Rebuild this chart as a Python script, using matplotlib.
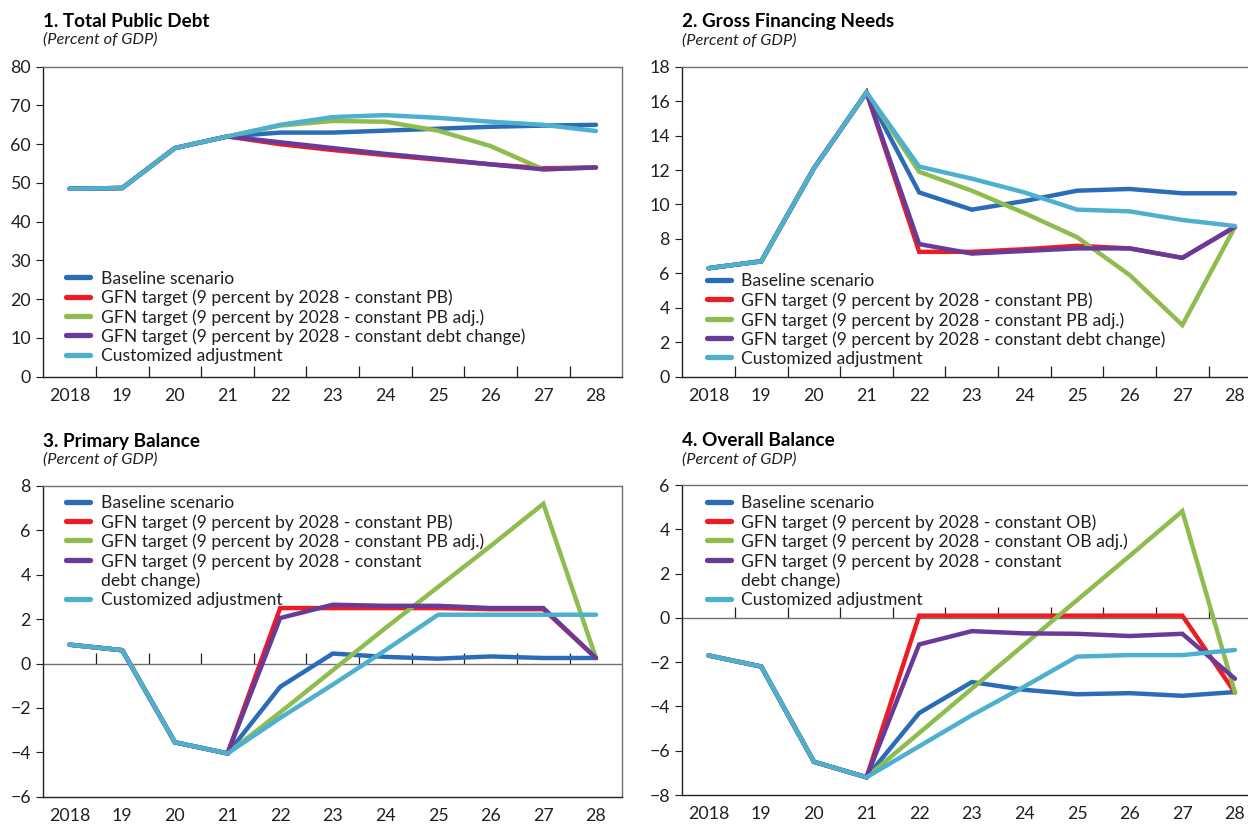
import matplotlib
matplotlib.use('Agg')
import matplotlib.pyplot as plt

plt.rcParams['font.family'] = ['Lato', 'DejaVu Sans']

# ── Data ───────────────────────────────────────────────────────────────────────
YEAR_LABELS = ['2018', '19', '20', '21', '22', '23', '24', '25', '26', '27', '28']

# 1. Total public debt
debt_baseline = [48.5, 48.7, 59.0, 62.0, 63.0, 63.0, 63.5, 64.0, 64.5, 64.8, 65.0]
debt_pb       = [48.5, 48.7, 59.0, 62.0, 60.0, 58.5, 57.2, 56.0, 54.8, 53.8, 54.0]
debt_pb_adj   = [48.5, 48.7, 59.0, 62.0, 64.8, 66.0, 65.8, 63.5, 59.5, 53.5, 54.0]
debt_dchg     = [48.5, 48.7, 59.0, 62.0, 60.5, 59.0, 57.5, 56.2, 54.8, 53.5, 54.0]
debt_custom   = [48.5, 48.7, 59.0, 62.0, 65.0, 67.0, 67.5, 66.8, 65.8, 65.0, 63.4]

# 2. Gross financing needs
gfn_baseline = [6.3, 6.7, 12.1, 16.5, 10.7, 9.7, 10.2, 10.8, 10.9, 10.65, 10.65]
gfn_pb       = [6.3, 6.7, 12.1, 16.5, 7.25, 7.25, 7.4, 7.6, 7.45, 6.9, 8.7]
gfn_pb_adj   = [6.3, 6.7, 12.1, 16.5, 11.9, 10.8, 9.5, 8.1, 5.9, 3.0, 8.7]
gfn_dchg     = [6.3, 6.7, 12.1, 16.5, 7.7, 7.15, 7.3, 7.45, 7.45, 6.9, 8.7]
gfn_custom   = [6.3, 6.7, 12.1, 16.5, 12.2, 11.5, 10.7, 9.7, 9.6, 9.1, 8.75]

# 3. Primary balance
pb_baseline = [0.85, 0.6, -3.55, -4.05, -1.05, 0.45, 0.3, 0.22, 0.32, 0.25, 0.25]
pb_pb       = [0.85, 0.6, -3.55, -4.05, 2.5, 2.5, 2.5, 2.5, 2.45, 2.45, 0.25]
pb_pb_adj   = [0.85, 0.6, -3.55, -4.05, -2.2, -0.3, 1.6, 3.45, 5.3, 7.2, 0.25]
pb_dchg     = [0.85, 0.6, -3.55, -4.05, 2.05, 2.65, 2.6, 2.6, 2.5, 2.5, 0.25]
pb_custom   = [0.85, 0.6, -3.55, -4.05, -2.45, -0.95, 0.6, 2.2, 2.2, 2.2, 2.2]

# 4. Overall balance
ob_baseline = [-1.7, -2.2, -6.5, -7.2, -4.3, -2.9, -3.25, -3.45, -3.4, -3.52, -3.35]
ob_ob       = [-1.7, -2.2, -6.5, -7.2, 0.1, 0.1, 0.1, 0.1, 0.1, 0.1, -3.38]
ob_ob_adj   = [-1.7, -2.2, -6.5, -7.2, -5.2, -3.2, -1.2, 0.8, 2.8, 4.82, -3.38]
ob_dchg     = [-1.7, -2.2, -6.5, -7.2, -1.2, -0.6, -0.7, -0.72, -0.82, -0.72, -2.75]
ob_custom   = [-1.7, -2.2, -6.5, -7.2, -5.8, -4.4, -3.1, -1.75, -1.68, -1.68, -1.45]

LABELS_PB = [
    'Baseline scenario',
    'GFN target (9 percent by 2028 - constant PB)',
    'GFN target (9 percent by 2028 - constant PB adj.)',
    'GFN target (9 percent by 2028 - constant debt change)',
    'Customized adjustment',
]
LABELS_PB_WRAP = LABELS_PB[:3] + [
    'GFN target (9 percent by 2028 - constant\ndebt change)',
    'Customized adjustment',
]
LABELS_OB_WRAP = [
    'Baseline scenario',
    'GFN target (9 percent by 2028 - constant OB)',
    'GFN target (9 percent by 2028 - constant OB adj.)',
    'GFN target (9 percent by 2028 - constant\ndebt change)',
    'Customized adjustment',
]

# ── Style ──────────────────────────────────────────────────────────────────────
BLUE   = '#2b6cb8'
RED    = '#ed1c24'
GREEN  = '#8fbc4f'
PURPLE = '#6a3a98'
CYAN   = '#4db0cf'
COLORS = [BLUE, RED, GREEN, PURPLE, CYAN]
DARK   = '#231f20'
GREY   = '#707070'

LW       = 3.2
TICK_FS  = 12.8
KEY_FS   = 12.6
W, H     = 1248, 824


def px_axes(left, top, width, height):
    """Axes rect from pixel coords (top-left origin)."""
    return [left / W, (H - top - height) / H, width / W, height / H]


def draw_key(ax, x0, y0, labels, step=0.0625):
    # one row per text line; the swatch sits on the first line of each entry
    row = 0
    for label, color in zip(labels, COLORS):
        y = y0 - row * step
        ax.plot([x0, x0 + 0.042], [y, y], transform=ax.transAxes, color=color,
                lw=3.8, solid_capstyle='round', clip_on=False, zorder=5)
        for line in label.split('\n'):
            ax.text(x0 + 0.06, y0 - row * step, line, transform=ax.transAxes,
                    fontsize=KEY_FS, va='center_baseline', ha='left', color=DARK)
            row += 1


def panel(ax, series, ylim, yticks, labels, key_xy, zero_line=False):
    x = range(len(YEAR_LABELS))
    for values, color in zip(series, COLORS):
        ax.plot(x, values, color=color, lw=LW, solid_capstyle='round',
                solid_joinstyle='miter', zorder=3)

    ax.set_xlim(-0.5, len(YEAR_LABELS) - 0.5)
    ax.set_ylim(*ylim)
    ax.set_yticks(yticks)
    ax.set_xticks(list(x))
    ax.set_xticklabels(YEAR_LABELS)
    ax.tick_params(axis='x', length=0, pad=8, labelsize=TICK_FS, colors=DARK)
    ax.tick_params(axis='y', length=5, width=0.8, pad=4, labelsize=TICK_FS,
                   colors=DARK, direction='out')

    bounds = [i + 0.5 for i in range(len(YEAR_LABELS) - 1)]
    if zero_line:
        ax.axhline(0, color=GREY, lw=1.0, zorder=2)
        sec = ax.secondary_xaxis(0, transform=ax.transData)
        sec.set_xticks(bounds)
        sec.tick_params(direction='in', length=8, width=0.9, color=DARK,
                        labelbottom=False)
        sec.spines['bottom'].set_visible(False)
    else:
        ax.set_xticks(bounds, minor=True)
        ax.tick_params(axis='x', which='minor', direction='in', length=8,
                       width=0.9, color=DARK)

    for side in ('left', 'bottom'):
        ax.spines[side].set_color(DARK)
        ax.spines[side].set_linewidth(1.0)
    for side in ('top', 'right'):
        ax.spines[side].set_color(GREY)
        ax.spines[side].set_linewidth(1.0)

    draw_key(ax, key_xy[0], key_xy[1], labels)


def header(ax_left_px, top_px, title):
    fig.text(ax_left_px / W, (H - top_px) / H, title, fontsize=13.6,
             fontweight='bold', va='baseline', ha='left', color='black')
    fig.text(ax_left_px / W, (H - top_px - 17.5) / H, '(Percent of GDP)',
             fontsize=11.8, style='italic', va='baseline', ha='left', color=DARK)


# ── Figure ─────────────────────────────────────────────────────────────────────
fig = plt.figure(figsize=(W / 100, H / 100), dpi=100)
fig.patch.set_facecolor('white')

ax1 = fig.add_axes(px_axes(43.3, 66.7, 579, 310))
ax2 = fig.add_axes(px_axes(682.3, 66.7, 579, 310))
ax3 = fig.add_axes(px_axes(43.3, 486.0, 579, 310.7))
ax4 = fig.add_axes(px_axes(682.3, 485.0, 579, 310))

panel(ax1, [debt_baseline, debt_pb, debt_pb_adj, debt_dchg, debt_custom],
      (0, 80), range(0, 81, 10), LABELS_PB, (0.039, 0.321))
panel(ax2, [gfn_baseline, gfn_pb, gfn_pb_adj, gfn_dchg, gfn_custom],
      (0, 18), range(0, 19, 2), LABELS_PB, (0.042, 0.312))
panel(ax3, [pb_baseline, pb_pb, pb_pb_adj, pb_dchg, pb_custom],
      (-6, 8), range(-6, 9, 2), LABELS_PB_WRAP, (0.039, 0.950), zero_line=True)
panel(ax4, [ob_baseline, ob_ob, ob_ob_adj, ob_dchg, ob_custom],
      (-8, 6), range(-8, 7, 2), LABELS_OB_WRAP, (0.042, 0.946), zero_line=True)

header(43.3, 26.7, '1. Total Public Debt')
header(682.3, 27.3, '2. Gross Financing Needs')
header(43.3, 446.7, '3. Primary Balance')
header(682.3, 446.0, '4. Overall Balance')

fig.savefig('out.png', dpi=100)
